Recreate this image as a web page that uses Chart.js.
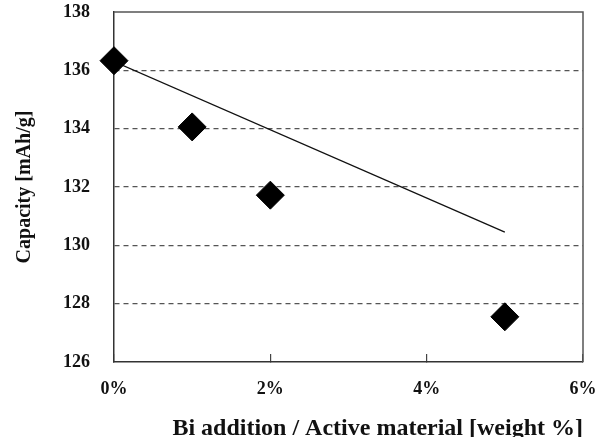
<!DOCTYPE html>
<html>
<head>
<meta charset="utf-8">
<script src="https://cdn.jsdelivr.net/npm/chart.js@4/dist/chart.umd.min.js"></script>
<style>
  html, body { margin: 0; padding: 0; background: #fff; }
  #wrap { width: 601px; height: 437px; }
</style>
</head>
<body>
<div id="wrap"><canvas id="chart" width="601" height="437"></canvas></div>
<script>
// --- DATA ---
const biAddition = [0, 1, 2, 5];                      // weight %
const capacity = [136.33, 134.06, 131.72, 127.55];    // mAh/g
const trendX = [0, 5];
const trendY = [136.3, 130.45];
const xTicks = [0, 2, 4, 6];
const yTicks = [126, 128, 130, 132, 134, 136, 138];

const FAMILY = "'Liberation Serif', 'Times New Roman', serif";
const TICK_FONT = { family: FAMILY, size: 18, weight: 'bold' };

// frame on top / right side of the plot area
const framePlugin = {
    id: 'frame',
    afterDatasetsDraw(chart) {
        const { ctx, chartArea: a } = chart;
        ctx.save();
        ctx.strokeStyle = '#555';
        ctx.lineWidth = 1.5;
        ctx.beginPath();
        ctx.moveTo(a.left, a.top);
        ctx.lineTo(a.right, a.top);
        ctx.lineTo(a.right, a.bottom);
        ctx.stroke();
        ctx.restore();
    }
};

new Chart(document.getElementById('chart'), {
    type: 'scatter',
    data: {
        datasets: [
            {
                label: 'Capacity',
                data: biAddition.map((x, i) => ({ x, y: capacity[i] })),
                pointStyle: 'rectRot',
                pointRadius: 14,
                pointHoverRadius: 14,
                backgroundColor: '#000',
                borderColor: '#000',
                borderWidth: 1,
                clip: false,
                order: 0
            },
            {
                label: 'Trend',
                type: 'line',
                data: trendX.map((x, i) => ({ x, y: trendY[i] })),
                borderColor: '#111',
                borderWidth: 1.3,
                pointRadius: 0,
                fill: false,
                order: 1
            }
        ]
    },
    options: {
        responsive: false,
        animation: false,
        layout: { autoPadding: false, padding: { top: 12, right: 18, left: 0, bottom: 0 } },
        plugins: {
            legend: { display: false },
            tooltip: { enabled: false }
        },
        scales: {
            x: {
                type: 'linear',
                min: 0,
                max: 6,
                afterBuildTicks: s => { s.ticks = xTicks.map(v => ({ value: v })); },
                afterFit: s => { s.height = 75; s.paddingLeft = 0; s.paddingRight = 0; },
                grid: { drawOnChartArea: false, drawTicks: true, tickLength: -8, color: '#444', lineWidth: 1.2 },
                border: { color: '#333', width: 1.5 },
                ticks: {
                    color: '#111',
                    font: TICK_FONT,
                    padding: 25,
                    callback: v => v + '%'
                },
                title: {
                    display: true,
                    align: 'end',
                    text: 'Bi addition / Active material [weight %]',
                    color: '#111',
                    font: { family: FAMILY, size: 24, weight: 'bold' },
                    padding: { top: 0, bottom: -6 }
                }
            },
            y: {
                min: 126,
                max: 138,
                afterBuildTicks: s => { s.ticks = yTicks.map(v => ({ value: v })); },
                afterFit: s => { s.width = 114; s.paddingTop = 0; s.paddingBottom = 0; },
                grid: {
                    drawTicks: false,
                    color: c => (c.tick && (c.tick.value === 126 || c.tick.value === 138)) ? 'rgba(0,0,0,0)' : '#555',
                    lineWidth: 1.2
                },
                border: { color: '#333', width: 1.5, dash: [5, 4] },
                ticks: {
                    color: '#111',
                    font: TICK_FONT,
                    padding: 24
                },
                title: {
                    display: true,
                    text: 'Capacity [mAh/g]',
                    color: '#111',
                    font: { family: FAMILY, size: 20, weight: 'bold' },
                    padding: { top: 13, bottom: 0 }
                }
            }
        }
    },
    plugins: [framePlugin]
});
</script>
</body>
</html>
